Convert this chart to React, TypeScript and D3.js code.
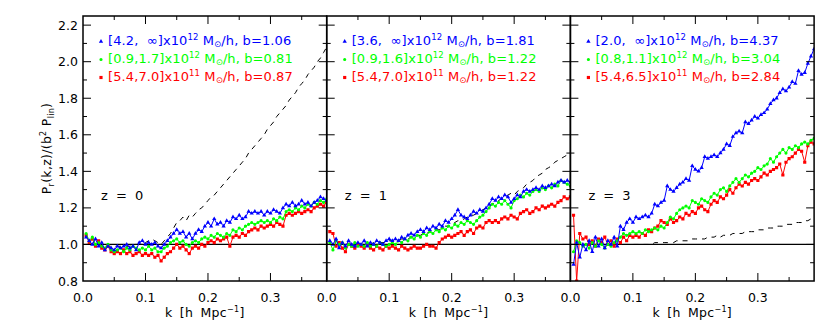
import React, { useEffect, useRef } from "react";
import * as d3 from "d3";

// k bins (h/Mpc), uniform grid of the measurement
const kGrid = d3.range(1, 79).map((i) => i * 0.005);

// z = 0
const blueZ0 = [
  1.04, 1.02, 1.0, 1.03, 0.99, 1.01, 0.97, 0.99, 0.98, 0.97,
  0.99, 0.98, 0.99, 1.0, 0.98, 0.99, 0.97, 1.01, 1.02, 1.0,
  1.01, 1.0, 1.01, 0.99, 0.98, 1.0, 1.02, 1.04, 1.06, 1.08,
  1.06, 1.07, 1.04, 1.06, 1.03, 1.06, 1.08, 1.07, 1.1, 1.12,
  1.1, 1.14, 1.11, 1.12, 1.1, 1.13, 1.12, 1.15, 1.14, 1.16,
  1.14, 1.15, 1.18, 1.17, 1.18, 1.17, 1.18, 1.16, 1.18, 1.17,
  1.19, 1.18, 1.17, 1.2, 1.22, 1.21, 1.23, 1.21, 1.22, 1.24,
  1.22, 1.23, 1.21, 1.23, 1.24, 1.26, 1.25, 1.24,
];
const greenZ0 = [
  1.06, 1.02, 1.04, 1.0, 1.01, 0.99, 0.98, 1.0, 0.97, 0.96,
  0.97, 0.98, 0.96, 0.98, 0.97, 0.99, 0.98, 0.97, 0.98, 0.97,
  0.99, 0.97, 0.98, 0.96, 0.96, 0.98, 0.99, 1.01, 1.02, 1.03,
  1.01, 1.02, 1.0, 0.99, 1.01, 1.02, 1.01, 1.03, 1.04, 1.03,
  1.05, 1.04, 1.06, 1.05, 1.04, 1.06, 1.05, 1.08, 1.07, 1.09,
  1.08, 1.1, 1.11, 1.12, 1.11, 1.12, 1.13, 1.12, 1.13, 1.12,
  1.14, 1.13, 1.15, 1.14, 1.18, 1.19, 1.18, 1.2, 1.19, 1.21,
  1.2, 1.22, 1.21, 1.23, 1.22, 1.24, 1.23, 1.25,
];
const redZ0 = [
  1.05, 1.01, 1.03, 0.99, 1.02, 0.98, 0.97, 0.99, 0.96, 0.95,
  0.96, 0.95, 0.97, 0.95, 0.96, 0.94, 0.95, 0.96, 0.94, 0.95,
  0.94, 0.95, 0.93, 0.94, 0.91, 0.93, 0.95, 0.96, 0.98, 1.0,
  0.98, 0.99, 0.97, 0.95, 0.98, 0.99, 0.98, 1.0, 0.99, 1.01,
  1.02, 1.01, 1.03, 1.02, 1.03, 1.04, 0.99, 1.04, 1.05, 1.04,
  1.06, 1.05, 1.07, 1.08, 1.09, 1.08, 1.1, 1.09, 1.1, 1.11,
  1.1, 1.12, 1.11, 1.1, 1.16, 1.17, 1.16, 1.17, 1.18, 1.17,
  1.18, 1.19, 1.18, 1.2, 1.21, 1.22, 1.21, 1.23,
];
const dashZ0 = [
  1.0, 1.0, 1.0, 1.0, 1.0, 0.99, 0.99, 0.99, 0.99, 0.99,
  0.99, 0.99, 0.99, 0.99, 0.99, 1.0, 1.0, 1.0, 1.01, 1.01,
  1.02, 1.03, 1.02, 1.01, 1.0, 1.02, 1.04, 1.06, 1.09, 1.12,
  1.13, 1.15, 1.13, 1.16, 1.15, 1.17, 1.19, 1.2, 1.22, 1.24,
  1.26, 1.27, 1.29, 1.31, 1.33, 1.35, 1.37, 1.39, 1.41, 1.43,
  1.45, 1.47, 1.5, 1.52, 1.54, 1.56, 1.58, 1.6, 1.63, 1.65,
  1.67, 1.7, 1.72, 1.74, 1.76, 1.79, 1.81, 1.83, 1.86, 1.88,
  1.9, 1.93, 1.95, 1.97, 2.0, 2.02, 2.05, 2.08,
];

// z = 1
const blueZ1 = [
  1.02, 1.0, 1.03, 0.98, 1.01, 0.99, 1.02, 1.0, 0.99, 1.01,
  1.0, 1.02, 0.99, 1.01, 1.0, 1.02, 1.01, 1.0, 1.02, 1.03,
  1.02, 1.03, 1.02, 1.04, 1.03, 1.05, 1.06, 1.05, 1.07, 1.08,
  1.07, 1.09, 1.08, 1.1, 1.09, 1.11, 1.1, 1.13, 1.12, 1.14,
  1.16, 1.19, 1.16, 1.15, 1.14, 1.16, 1.18, 1.17, 1.19, 1.18,
  1.2, 1.22, 1.25, 1.24, 1.26, 1.25, 1.27, 1.26, 1.23, 1.25,
  1.27, 1.26, 1.29, 1.3, 1.29, 1.3, 1.31, 1.3, 1.32, 1.31,
  1.32, 1.33, 1.32, 1.34, 1.35, 1.34, 1.35, 1.34,
];
const greenZ1 = [
  1.01, 0.97, 1.02, 1.0, 1.01, 0.98, 1.0, 0.99, 1.01, 0.99,
  1.0, 0.99, 1.01, 0.99, 1.0, 0.99, 1.01, 1.0, 0.99, 1.0,
  1.01, 1.0, 1.02, 1.01, 1.03, 1.02, 1.04, 1.03, 1.05, 1.04,
  1.06, 1.05, 1.07, 1.06, 1.08, 1.07, 1.09, 1.08, 1.1, 1.09,
  1.11, 1.1, 1.12, 1.11, 1.13, 1.12, 1.11, 1.13, 1.15, 1.16,
  1.18, 1.2, 1.22, 1.21, 1.23, 1.22, 1.24, 1.22, 1.2, 1.24,
  1.25, 1.27, 1.26, 1.28, 1.27, 1.29, 1.3, 1.29, 1.31, 1.3,
  1.32, 1.31, 1.33, 1.32, 1.35, 1.34, 1.33, 1.32,
];
const redZ1 = [
  1.07, 1.06, 0.99, 1.01, 0.98, 0.96, 1.0, 0.99, 0.98, 1.0,
  0.99, 0.98, 1.0, 0.98, 0.97, 0.99, 0.98, 0.97, 0.99, 0.98,
  0.99, 0.98, 0.97, 0.99, 0.98, 0.97, 0.98, 0.99, 0.98, 0.98,
  0.99, 1.0, 0.99, 0.99, 0.98, 1.01, 1.03, 1.04, 1.05, 1.04,
  1.05, 1.06, 1.07, 1.05, 1.07, 1.08, 1.06, 1.09, 1.1, 1.09,
  1.12, 1.13, 1.12, 1.13, 1.12, 1.14, 1.15, 1.14, 1.16, 1.15,
  1.14, 1.17, 1.18, 1.19, 1.17, 1.18, 1.2, 1.19, 1.21, 1.2,
  1.21, 1.22, 1.21, 1.23, 1.24, 1.26, 1.25, 1.26,
];
const dashZ1 = [
  1.0, 1.0, 1.0, 1.0, 1.0, 1.0, 1.0, 1.0, 1.0, 1.0,
  1.0, 1.0, 1.0, 1.0, 1.01, 1.01, 1.01, 1.01, 1.01, 1.02,
  1.02, 1.02, 1.02, 1.03, 1.03, 1.03, 1.04, 1.04, 1.05, 1.05,
  1.06, 1.06, 1.07, 1.07, 1.08, 1.08, 1.09, 1.1, 1.1, 1.11,
  1.12, 1.13, 1.13, 1.14, 1.15, 1.16, 1.16, 1.17, 1.18, 1.19,
  1.2, 1.21, 1.22, 1.23, 1.24, 1.25, 1.26, 1.27, 1.28, 1.27,
  1.29, 1.3, 1.31, 1.33, 1.34, 1.35, 1.37, 1.38, 1.39, 1.41,
  1.42, 1.43, 1.45, 1.46, 1.47, 1.48, 1.49, 1.5,
];

// z = 3
const blueZ3 = [
  0.89, 1.01, 0.93, 1.0, 0.97, 1.02, 0.96, 1.04, 0.99, 1.03,
  0.98, 1.02, 1.0, 1.04, 0.99, 1.1, 1.08, 1.12, 1.14, 1.12,
  1.15, 1.14, 1.15, 1.16, 1.15, 1.17, 1.22, 1.21, 1.23, 1.24,
  1.32, 1.3, 1.29, 1.31, 1.33, 1.34, 1.36, 1.35, 1.43, 1.41,
  1.4, 1.42, 1.48, 1.47, 1.48, 1.49, 1.48, 1.5, 1.52, 1.55,
  1.54, 1.59, 1.61, 1.62, 1.61, 1.67, 1.66, 1.68, 1.7, 1.69,
  1.71, 1.72, 1.74, 1.77, 1.79, 1.8, 1.83, 1.85, 1.84, 1.86,
  1.89, 1.88, 1.95, 1.93, 1.94, 1.99, 2.03, 2.07,
];
const greenZ3 = [
  0.96, 1.02, 1.01, 0.99, 1.0, 0.98, 1.01, 0.99, 1.02, 1.0,
  0.98, 1.0, 0.99, 1.01, 1.02, 1.04, 1.06, 1.05, 1.06, 1.07,
  1.06, 1.07, 1.06, 1.08, 1.07, 1.08, 1.09, 1.08, 1.1, 1.09,
  1.12, 1.15, 1.14, 1.17, 1.19, 1.2, 1.21, 1.2, 1.24, 1.23,
  1.22, 1.25, 1.24, 1.23, 1.26, 1.28, 1.27, 1.3, 1.31, 1.29,
  1.32, 1.34, 1.36, 1.34, 1.36, 1.38, 1.37, 1.39, 1.4, 1.42,
  1.41, 1.43, 1.44, 1.47, 1.45, 1.48, 1.5, 1.52, 1.5, 1.53,
  1.52, 1.54, 1.53, 1.55, 1.56, 1.55, 1.57, 1.58,
];
const redZ3 = [
  1.16, 0.8, 1.06, 1.03, 1.04, 1.0, 1.02, 0.99, 1.03, 1.01,
  1.04, 1.0, 1.02, 0.99, 1.03, 1.01, 1.04, 1.02, 1.05, 1.04,
  1.05, 1.04, 1.06, 1.05, 1.08, 1.07, 1.09, 1.1, 1.13, 1.12,
  1.11, 1.14, 1.12, 1.13, 1.15, 1.14, 1.17, 1.16, 1.18, 1.17,
  1.2, 1.21, 1.19, 1.18, 1.22, 1.24, 1.23, 1.26, 1.25, 1.27,
  1.3, 1.28, 1.31, 1.33, 1.32, 1.34, 1.33, 1.35, 1.36, 1.35,
  1.37, 1.39, 1.38, 1.4, 1.41, 1.42, 1.44, 1.38, 1.45, 1.47,
  1.48, 1.5, 1.52, 1.51, 1.45, 1.54, 1.56, 1.55,
];
const dashZ3 = [
  1.0, 1.0, 1.0, 1.0, 1.0, 1.0, 1.0, 1.0, 1.0, 1.0,
  1.0, 1.0, 1.0, 1.0, 1.0, 1.0, 1.0, 1.0, 1.0, 1.0,
  1.0, 1.0, 1.0, 1.0, 1.0, 1.0, 1.01, 1.01, 1.01, 1.01,
  1.01, 1.01, 1.01, 1.02, 1.02, 1.02, 1.02, 1.02, 1.03, 1.03,
  1.03, 1.03, 1.03, 1.04, 1.04, 1.04, 1.05, 1.04, 1.05, 1.05,
  1.05, 1.06, 1.06, 1.06, 1.06, 1.07, 1.07, 1.07, 1.07, 1.08,
  1.08, 1.08, 1.09, 1.09, 1.09, 1.1, 1.1, 1.1, 1.11, 1.11,
  1.11, 1.12, 1.12, 1.12, 1.13, 1.13, 1.14, 1.14,
];

// legend text
const redshifts = ["0", "1", "3"];
const massRanges = [
  ["[4.2,  \u221e]", "[0.9,1.7]", "[5.4,7.0]"],
  ["[3.6,  \u221e]", "[0.9,1.6]", "[5.4,7.0]"],
  ["[2.0,  \u221e]", "[0.8,1.1]", "[5.4,6.5]"],
];
const massExps = ["12", "12", "11"];
const biases = [
  ["1.06", "0.81", "0.87"],
  ["1.81", "1.22", "1.22"],
  ["4.37", "3.04", "2.84"],
];
const xTicks = [0, 0.1, 0.2, 0.3];
const yTicks = [0.8, 1.0, 1.2, 1.4, 1.6, 1.8, 2.0, 2.2];

const colors = ["#0000ff", "#00ff00", "#ff0000"];
const FONT = "'DejaVu Sans', sans-serif";

function drawChart(node: SVGSVGElement) {
  var svg = d3.select(node);
  svg.selectAll("*").remove();

  var panels = [
    { series: [blueZ0, greenZ0, redZ0], dash: dashZ0 },
    { series: [blueZ1, greenZ1, redZ1], dash: dashZ1 },
    { series: [blueZ3, greenZ3, redZ3], dash: dashZ3 },
  ];

  var top = 16,
    bottom = 281,
    left = 83,
    pw = 243.7;

  var y = d3.scaleLinear().domain([0.8, 2.25]).range([bottom, top]);

  var symbols = [
    d3.symbol().type(d3.symbolTriangle).size(8),
    d3.symbol().type(d3.symbolCircle).size(8),
    d3.symbol().type(d3.symbolSquare).size(10),
  ];

  panels.forEach((p, pi) => {
    var x0 = left + pi * pw;
    var x = d3.scaleLinear().domain([0, 0.39]).range([x0, x0 + pw]);
    var g = svg.append("g");

    g.append("clipPath")
      .attr("id", "clip" + pi)
      .append("rect")
      .attr("x", x0)
      .attr("y", top)
      .attr("width", pw)
      .attr("height", bottom - top);

    var plot = g.append("g").attr("clip-path", `url(#clip${pi})`);

    var line = d3
      .line<number>()
      .x((d, i) => x(kGrid[i]))
      .y((d) => y(d));

    plot
      .append("path")
      .datum(p.dash)
      .attr("d", line)
      .attr("fill", "none")
      .attr("stroke", "#000")
      .attr("stroke-width", 1)
      .attr("stroke-dasharray", "5,5");

    plot
      .append("line")
      .attr("x1", x0)
      .attr("x2", x0 + pw)
      .attr("y1", y(1))
      .attr("y2", y(1))
      .attr("stroke", "#000")
      .attr("stroke-width", 1.3);

    // draw red first so blue ends on top
    [2, 1, 0].forEach((si) => {
      var vals = p.series[si];
      plot
        .append("path")
        .datum(vals)
        .attr("d", line)
        .attr("fill", "none")
        .attr("stroke", colors[si])
        .attr("stroke-width", 1);
      plot
        .selectAll(null)
        .data(vals)
        .join("path")
        .attr("d", symbols[si])
        .attr("transform", (d, i) => `translate(${x(kGrid[i])},${y(d)})`)
        .attr("fill", colors[si]);
    });

    // frame
    g.append("rect")
      .attr("x", x0)
      .attr("y", top)
      .attr("width", pw)
      .attr("height", bottom - top)
      .attr("fill", "none")
      .attr("stroke", "#000")
      .attr("stroke-width", 1.5);

    // x ticks (major 0.1, minor 0.05), bottom and top
    d3.range(0, 0.39, 0.05).forEach((t, ti) => {
      var len = ti % 2 === 0 ? 8 : 4;
      if (t === 0) return;
      g.append("line")
        .attr("x1", x(t)).attr("x2", x(t))
        .attr("y1", bottom).attr("y2", bottom - len)
        .attr("stroke", "#000");
      g.append("line")
        .attr("x1", x(t)).attr("x2", x(t))
        .attr("y1", top).attr("y2", top + len)
        .attr("stroke", "#000");
    });

    // y ticks (major 0.2, minor 0.1), left and right
    d3.range(0.9, 2.25, 0.1).forEach((t, ti) => {
      var len = ti % 2 === 1 ? 8 : 4;
      g.append("line")
        .attr("x1", x0).attr("x2", x0 + len)
        .attr("y1", y(t)).attr("y2", y(t))
        .attr("stroke", "#000");
      g.append("line")
        .attr("x1", x0 + pw).attr("x2", x0 + pw - len)
        .attr("y1", y(t)).attr("y2", y(t))
        .attr("stroke", "#000");
    });

    g.selectAll(null)
      .data(xTicks)
      .join("text")
      .attr("x", (d) => x(d))
      .attr("y", 302)
      .attr("text-anchor", "middle")
      .style("font-family", FONT)
      .style("font-size", "12.5px")
      .text((d) => d3.format(".1f")(d));

    if (pi === 0) {
      g.selectAll(null)
        .data(yTicks)
        .join("text")
        .attr("x", x0 - 5)
        .attr("y", (d) => y(d) + 4.5)
        .attr("text-anchor", "end")
        .style("font-family", FONT)
        .style("font-size", "12.5px")
        .text((d) => d3.format(".1f")(d));
    }

    // x axis title
    var xt = g
      .append("text")
      .attr("x", x0 + pw / 2)
      .attr("y", 317)
      .attr("text-anchor", "middle")
      .style("font-family", FONT)
      .style("font-size", "12.5px")
      .style("word-spacing", "3px")
      .style("letter-spacing", "0.3px");
    xt.append("tspan").text("k [h Mpc");
    xt.append("tspan").attr("dy", -5).style("font-size", "8px").text("\u22121");
    xt.append("tspan").attr("dy", 5).text("]");

    // redshift label
    g.append("text")
      .attr("x", x0 + 18)
      .attr("y", 200)
      .style("font-family", FONT)
      .style("font-size", "13px")
      .style("word-spacing", "4px")
      .text("z = " + redshifts[pi]);

    // legend
    [0, 1, 2].forEach((si) => {
      var ly = 45 + si * 18;
      g.append("path")
        .attr("d", symbols[si])
        .attr("transform", `translate(${x0 + 18},${ly - 3.5})`)
        .attr("fill", colors[si]);
      var t = g
        .append("text")
        .attr("x", x0 + 25)
        .attr("y", ly)
        .attr("fill", colors[si])
        .attr("xml:space", "preserve")
        .style("font-family", FONT)
        .style("font-size", "13px")
        .style("letter-spacing", "0.1px")
        .style("white-space", "pre");
      t.append("tspan").text(massRanges[pi][si] + "x10");
      t.append("tspan").attr("dy", -5).style("font-size", "8.5px").text(massExps[si]);
      t.append("tspan").attr("dy", 5).text(" M");
      t.append("tspan").attr("dy", 2).style("font-size", "8.5px").text("\u2299");
      t.append("tspan").attr("dy", -2).text("/h, b=" + biases[pi][si]);
    });
  });

  // y axis title
  var yt = svg
    .append("text")
    .attr("transform", `translate(51,${(top + bottom) / 2}) rotate(-90)`)
    .attr("text-anchor", "middle")
    .style("font-family", FONT)
    .style("font-size", "12.5px")
    .style("letter-spacing", "0.3px");
  yt.append("tspan").text("P");
  yt.append("tspan").attr("dy", 3).style("font-size", "8px").text("r");
  yt.append("tspan").attr("dy", -3).text("(k,z)/(b");
  yt.append("tspan").attr("dy", -5).style("font-size", "8px").text("2");
  yt.append("tspan").attr("dy", 5).text(" P");
  yt.append("tspan").attr("dy", 3).style("font-size", "8px").text("lin");
  yt.append("tspan").attr("dy", -3).text(")");
}

export default function App() {
  const ref = useRef<SVGSVGElement>(null);

  useEffect(() => {
    if (ref.current) drawChart(ref.current);
  }, []);

  return (
    <svg
      ref={ref}
      width={830}
      height={332}
      style={{ position: "absolute", left: 0, top: 0, background: "#fff" }}
    ></svg>
  );
}
